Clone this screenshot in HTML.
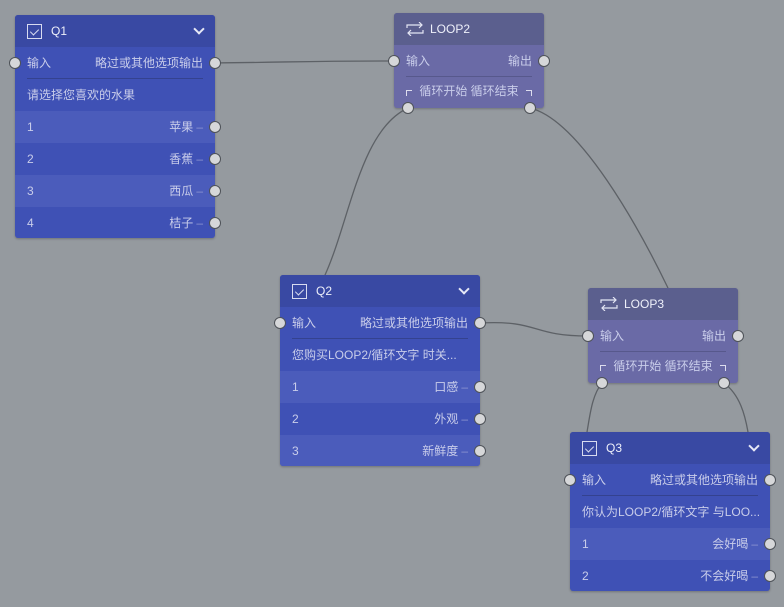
<!DOCTYPE html>
<html><head><meta charset="utf-8">
<style>
*{box-sizing:border-box;margin:0;padding:0}
body{width:784px;height:607px;background:#959a9f;position:relative;overflow:hidden;font-family:"Liberation Sans","Noto Sans CJK SC",sans-serif;font-size:12px;color:#c9cdea}
.n{position:absolute;width:200px;border-radius:3px;background:#3f51b5;box-shadow:0 1px 2px rgba(0,0,0,.25)}
.h{height:32px;background:#3949a3;border-radius:3px 3px 0 0;position:relative;color:#eef0fa;font-size:12px}
.h .t{position:absolute;left:36px;top:9px}
.cb{position:absolute;left:12px;top:9px;width:15px;height:15px;border:1px solid #d8dbf0}
.cb:after{content:"";position:absolute;left:4px;top:2px;width:4px;height:7px;border:solid #d8dbf0;border-width:0 1px 1px 0;transform:rotate(45deg)}
.chev{position:absolute;right:12px;top:10px;width:8px;height:8px;border:solid #e6e8f6;border-width:0 2px 2px 0;transform:rotate(45deg)}
.r{height:32px;position:relative;line-height:32px;padding:0 12px;white-space:nowrap;overflow:hidden}
.r .rt{position:absolute;right:12px;top:0}
.sep{position:absolute;left:12px;right:12px;bottom:0;height:1px;background:#34428f}
.alt{background:#4b5cbb}
.p{position:absolute;width:12px;height:12px;border-radius:50%;background:#d6d7d9;border:1.5px solid #4e5258;z-index:3}
.lp{background:#6a6aa6}
.lp .h{background:#5b5f8e}
.ic{position:absolute;left:12px;top:9px;width:18px;height:14px}
.dash{color:#8c95d0;margin-left:3px}
</style></head><body>
<svg width="784" height="607" style="position:absolute;left:0;top:0" fill="none" stroke="#5d6166" stroke-width="1.3">
<path d="M215 63 C300 62,310 61,394 61"/>
<path d="M408 108 C360 130,350 220,325 275"/>
<path d="M530 108 C580 120,640 230,668 288"/>
<path d="M480 323 C540 320,530 336,588 336"/>
<path d="M602 383 C592 395,590 415,587 432"/>
<path d="M724 383 C740 395,745 415,748 432"/>
</svg>

<!-- Q1 -->
<div class="n" style="left:15px;top:15px">
 <div class="h"><div class="cb"></div><span class="t">Q1</span><div class="chev"></div></div>
 <div class="r">输入<span class="rt">略过或其他选项输出</span><div class="sep"></div></div>
 <div class="r">请选择您喜欢的水果</div>
 <div class="r alt">1<span class="rt">苹果<span class="dash">–</span></span></div>
 <div class="r">2<span class="rt">香蕉<span class="dash">–</span></span></div>
 <div class="r alt">3<span class="rt">西瓜<span class="dash">–</span></span></div>
 <div class="r" style="height:31px;border-radius:0 0 3px 3px">4<span class="rt">桔子<span class="dash">–</span></span></div>
</div>
<div class="p" style="left:9px;top:57px"></div>
<div class="p" style="left:209px;top:57px"></div>
<div class="p" style="left:209px;top:121px"></div>
<div class="p" style="left:209px;top:153px"></div>
<div class="p" style="left:209px;top:185px"></div>
<div class="p" style="left:209px;top:217px"></div>

<!-- Q2 -->
<div class="n" style="left:280px;top:275px">
 <div class="h"><div class="cb"></div><span class="t">Q2</span><div class="chev"></div></div>
 <div class="r">输入<span class="rt">略过或其他选项输出</span><div class="sep"></div></div>
 <div class="r">您购买LOOP2/循环文字 时关...</div>
 <div class="r alt">1<span class="rt">口感<span class="dash">–</span></span></div>
 <div class="r">2<span class="rt">外观<span class="dash">–</span></span></div>
 <div class="r alt" style="height:31px;border-radius:0 0 3px 3px">3<span class="rt">新鲜度<span class="dash">–</span></span></div>
</div>
<div class="p" style="left:274px;top:317px"></div>
<div class="p" style="left:474px;top:317px"></div>
<div class="p" style="left:474px;top:381px"></div>
<div class="p" style="left:474px;top:413px"></div>
<div class="p" style="left:474px;top:445px"></div>

<!-- Q3 -->
<div class="n" style="left:570px;top:432px">
 <div class="h"><div class="cb"></div><span class="t">Q3</span><div class="chev"></div></div>
 <div class="r">输入<span class="rt">略过或其他选项输出</span><div class="sep"></div></div>
 <div class="r">你认为LOOP2/循环文字 与LOO...</div>
 <div class="r alt">1<span class="rt">会好喝<span class="dash">–</span></span></div>
 <div class="r" style="height:31px;border-radius:0 0 3px 3px">2<span class="rt">不会好喝<span class="dash">–</span></span></div>
</div>
<div class="p" style="left:564px;top:474px"></div>
<div class="p" style="left:764px;top:474px"></div>
<div class="p" style="left:764px;top:538px"></div>
<div class="p" style="left:764px;top:570px"></div>

<!-- LOOP2 -->
<div class="n lp" style="left:394px;top:13px;width:150px;height:95px">
 <div class="h"><svg class="ic" viewBox="0 0 18 14" fill="none" stroke="#e4e6f4" stroke-width="1.2"><path d="M1 6V3h15M13 0l3 3-3 3M17 8v3H2M5 14l-3-3 3-3"/></svg><span class="t">LOOP2</span></div>
 <div class="r">输入<span class="rt">输出</span><div class="sep" style="background:#57588c"></div></div>
 <div class="r" style="line-height:28px;text-align:center;overflow:visible">
  <span style="position:absolute;left:12px;top:13px;width:6px;height:6px;border-left:1px solid #dde;border-top:1px solid #dde"></span>循环开始 循环结束<span style="position:absolute;right:12px;top:13px;width:6px;height:6px;border-right:1px solid #dde;border-top:1px solid #dde"></span></div>
</div>
<div class="p" style="left:388px;top:55px"></div>
<div class="p" style="left:538px;top:55px"></div>
<div class="p" style="left:402px;top:102px"></div>
<div class="p" style="left:524px;top:102px"></div>

<!-- LOOP3 -->
<div class="n lp" style="left:588px;top:288px;width:150px;height:95px">
 <div class="h"><svg class="ic" viewBox="0 0 18 14" fill="none" stroke="#e4e6f4" stroke-width="1.2"><path d="M1 6V3h15M13 0l3 3-3 3M17 8v3H2M5 14l-3-3 3-3"/></svg><span class="t">LOOP3</span></div>
 <div class="r">输入<span class="rt">输出</span><div class="sep" style="background:#57588c"></div></div>
 <div class="r" style="line-height:28px;text-align:center;overflow:visible">
  <span style="position:absolute;left:12px;top:13px;width:6px;height:6px;border-left:1px solid #dde;border-top:1px solid #dde"></span>循环开始 循环结束<span style="position:absolute;right:12px;top:13px;width:6px;height:6px;border-right:1px solid #dde;border-top:1px solid #dde"></span></div>
</div>
<div class="p" style="left:582px;top:330px"></div>
<div class="p" style="left:732px;top:330px"></div>
<div class="p" style="left:596px;top:377px"></div>
<div class="p" style="left:718px;top:377px"></div>
</body></html>
